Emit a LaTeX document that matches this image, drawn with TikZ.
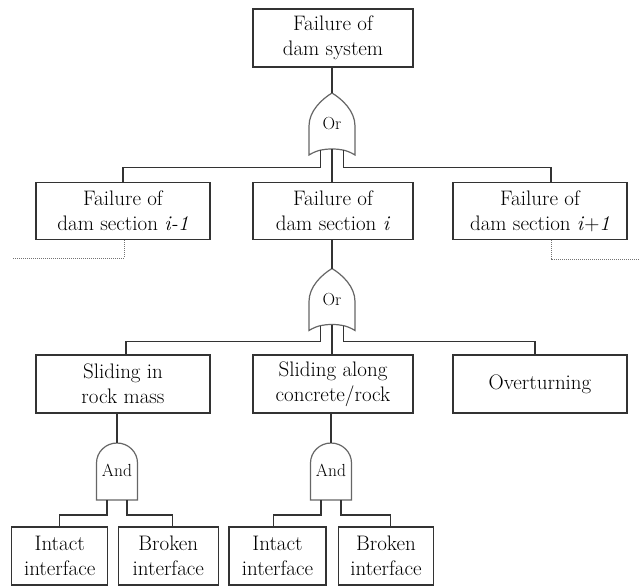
\documentclass[tikz,border=0pt]{standalone}
\usetikzlibrary{calc}

\tikzset{
  box/.style={draw=black!80, line width=1.3pt, minimum height=57pt,
    inner sep=0pt, align=center, font=\rmfamily\fontsize{21}{25}\selectfont},
  wire/.style={draw=black!80, line width=1.3pt},
  gateline/.style={draw=black!60, line width=1.2pt, fill=white},
  gatetext/.style={inner sep=0pt, font=\rmfamily\fontsize{17.5}{19}\selectfont},
  link/.style={draw=black!55, line width=1pt, dash pattern=on 1pt off 1pt},
}

% OR gate: #1 name, (#2,#3) centre; pins #1-in, #1-l, #1-c, #1-r
\newcommand{\orgate}[3]{%
  \begin{scope}[shift={(#2,#3)}]
    \path[gateline] (0,-31) .. controls (-10,-25) and (-23,-13) .. (-23,2)
      -- (-23,31) .. controls (-15,26) and (-8,25) .. (0,25)
      .. controls (8,25) and (15,26) .. (23,31)
      -- (23,2) .. controls (23,-13) and (10,-25) .. (0,-31) -- cycle;
    \coordinate (#1-in) at (0,-31);
    \coordinate (#1-l) at (-11.5,26.2);
    \coordinate (#1-c) at (0,25);
    \coordinate (#1-r) at (11.5,26.2);
    \node[gatetext] (#1) at (0,0) {Or};
  \end{scope}}

% AND gate: #1 name, (#2,#3) centre; pins #1-in, #1-l, #1-r
\newcommand{\andgate}[3]{%
  \begin{scope}[shift={(#2,#3)}]
    \path[gateline] (-20.5,29) -- (-20.5,-8)
      .. controls (-20.5,-19) and (-11.3,-28) .. (0,-28)
      .. controls (11.3,-28) and (20.5,-19) .. (20.5,-8)
      -- (20.5,29) -- cycle;
    \coordinate (#1-in) at (0,-28);
    \coordinate (#1-l) at (-10,29);
    \coordinate (#1-r) at (10,29);
    \node[gatetext] (#1) at (0,-1) {And};
  \end{scope}}

\begin{document}
\begin{tikzpicture}[x=1pt,y=-1pt]
  \useasboundingbox (0,0) rectangle (639,588);

  % top event
  \node[box, minimum width=160pt, minimum height=58pt] (T) at (333,38) {Failure of\\dam system};

  % dam sections
  \node[box, minimum width=174pt] (S1) at (123,211) {Failure of\\dam section \textit{i-1}};
  \node[box, minimum width=160pt] (S2) at (333,211) {Failure of\\dam section \textit{i}};
  \node[box, minimum width=174pt] (S3) at (540,211) {Failure of\\dam section \textit{i}+\textit{1}};

  % failure modes
  \node[box, minimum width=174pt, minimum height=58pt] (M1) at (123,384) {Sliding in\\rock mass};
  \node[box, minimum width=160pt, minimum height=58pt] (M2) at (333,384) {Sliding along\\concrete/rock};
  \node[box, minimum width=174pt, minimum height=58pt] (M3) at (540,384) {Overturning};

  % basic events
  \node[box, minimum width=96pt, minimum height=58pt] (B1) at (59.7,556) {Intact\\interface};
  \node[box, minimum width=100pt, minimum height=58pt] (B2) at (168.3,556) {Broken\\interface};
  \node[box, minimum width=97pt, minimum height=58pt] (B3) at (277.5,556) {Intact\\interface};
  \node[box, minimum width=95pt, minimum height=58pt] (B4) at (386,556) {Broken\\interface};

  % gates
  \orgate{G1}{332}{124}
  \orgate{G2}{332}{299.5}
  \andgate{A1}{117}{471}
  \andgate{A2}{331}{471}

  % top event to first OR gate
  \draw[wire] (G1-in |- T.south) -- (G1-in);
  \draw[wire] (G1-c) -- (G1-c |- S2.north);
  \draw[wire] (G1-l) -- ++(0,17) -| (S1.north);
  \draw[wire] (G1-r) -- ++(0,17) -| ($(S3.north)+(11,0)$);

  % section i to second OR gate
  \draw[wire] (G2-in |- S2.south) -- (G2-in);
  \draw[wire] (G2-c) -- (G2-c |- M2.north);
  \draw[wire] (G2-l) -- ++(0,16) -| ($(M1.north)+(3,0)$);
  \draw[wire] (G2-r) -- ++(0,16) -| ($(M3.north)+(-5,0)$);

  % AND gates
  \draw[wire] (A1-in |- M1.south) -- (A1-in);
  \draw[wire] (A1-l) -- ++(0,15) -| (B1.north);
  \draw[wire] (A1-r) -- ++(0,15) -| ($(B2.north)+(4,0)$);
  \draw[wire] (A2-in |- M2.south) -- (A2-in);
  \draw[wire] (A2-l) -- ++(0,15) -| ($(B3.north)+(-4,0)$);
  \draw[wire] (A2-r) -- ++(0,15) -| ($(B4.north)+(4.6,0)$);

  % links to neighbouring sections
  \coordinate (nl) at (13,258);
  \coordinate (nr) at (639,259);
  \draw[link] ($(S1.south)+(1,0)$) |- (nl);
  \draw[link] ($(S3.south)+(11,0)$) |- (nr);
\end{tikzpicture}
\end{document}
